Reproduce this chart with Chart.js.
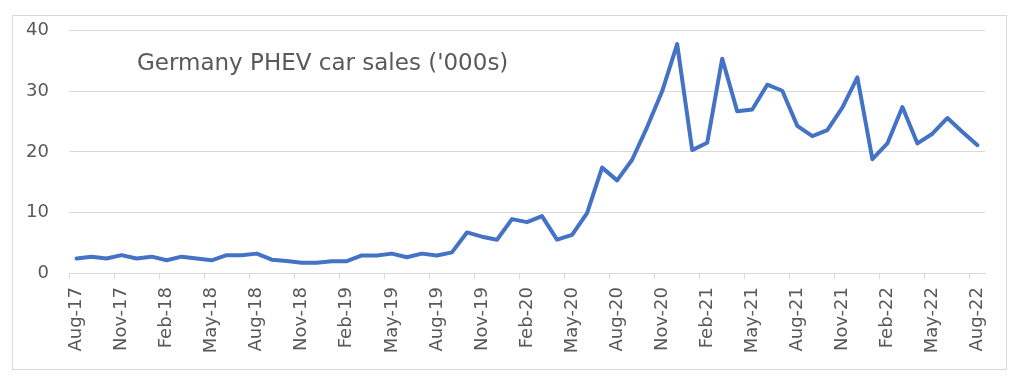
<!DOCTYPE html>
<html>
<head>
<meta charset="utf-8">
<script src="https://cdn.jsdelivr.net/npm/chart.js@4.4.1/dist/chart.umd.min.js"></script>
<style>
  html, body { margin: 0; padding: 0; background: #ffffff; }
  #wrap { position: relative; width: 1024px; height: 381px; }
  #frame { position: absolute; left: 12px; top: 15px; width: 995px; height: 355px; border: 1px solid #d9d9d9; box-sizing: border-box; }
  #c { position: absolute; left: 0; top: 0; }
</style>
</head>
<body>
<div id="wrap">
  <div id="frame"></div>
  <canvas id="c" width="1024" height="381"></canvas>
</div>
<script>
// ---- Data ----
const chartTitle = "Germany PHEV car sales ('000s)";
const months = [
  "Aug-17","Sep-17","Oct-17","Nov-17","Dec-17",
  "Jan-18","Feb-18","Mar-18","Apr-18","May-18","Jun-18","Jul-18","Aug-18","Sep-18","Oct-18","Nov-18","Dec-18",
  "Jan-19","Feb-19","Mar-19","Apr-19","May-19","Jun-19","Jul-19","Aug-19","Sep-19","Oct-19","Nov-19","Dec-19",
  "Jan-20","Feb-20","Mar-20","Apr-20","May-20","Jun-20","Jul-20","Aug-20","Sep-20","Oct-20","Nov-20","Dec-20",
  "Jan-21","Feb-21","Mar-21","Apr-21","May-21","Jun-21","Jul-21","Aug-21","Sep-21","Oct-21","Nov-21","Dec-21",
  "Jan-22","Feb-22","Mar-22","Apr-22","May-22","Jun-22","Jul-22","Aug-22"
];
const phevSales = [
  2.4, 2.7, 2.4, 2.95, 2.4,
  2.7, 2.1, 2.7, 2.4, 2.1, 2.95, 2.95, 3.2, 2.2, 2.0, 1.7, 1.7,
  1.95, 1.95, 2.9, 2.9, 3.2, 2.6, 3.2, 2.9, 3.4, 6.7, 6.0, 5.5,
  8.9, 8.4, 9.4, 5.5, 6.3, 9.9, 17.4, 15.3, 18.7, 24.1, 30.0, 37.8,
  20.3, 21.5, 35.4, 26.7, 27.0, 31.1, 30.1, 24.3, 22.6, 23.6, 27.3, 32.3,
  18.8, 21.4, 27.4, 21.4, 23.0, 25.6, 23.3, 21.1
];
const yTicks = [0, 10, 20, 30, 40];
const labelEvery = 3;

// ---- Chart ----
const FONT = "'DejaVu Sans', sans-serif";
const TXT = '#595959';
const GRID = '#d9d9d9';

const innerTitle = {
  id: 'innerTitle',
  afterDraw(chart) {
    const ctx = chart.ctx;
    ctx.save();
    ctx.font = "23px " + FONT;
    ctx.fillStyle = TXT;
    ctx.textAlign = 'left';
    ctx.textBaseline = 'alphabetic';
    ctx.fillText(chartTitle, 137, 70);
    ctx.restore();
  }
};

new Chart(document.getElementById('c'), {
  type: 'line',
  data: {
    labels: months,
    datasets: [{
      data: phevSales,
      borderColor: '#4472C4',
      borderWidth: 4,
      pointRadius: 0,
      tension: 0,
      fill: false,
      borderJoinStyle: 'round',
      borderCapStyle: 'round'
    }]
  },
  options: {
    responsive: false,
    animation: false,
    layout: { padding: { top: 29, right: 39, left: 0, bottom: 0 } },
    plugins: { legend: { display: false }, tooltip: { enabled: false } },
    scales: {
      x: {
        type: 'category',
        offset: true,
        afterFit(scale) { scale.height = 108; },
        border: { display: true, color: GRID, width: 1 },
        grid: {
          offset: true,
          drawOnChartArea: false,
          drawTicks: true,
          tickLength: 6,
          color: (ctx) => (ctx.index !== undefined && ctx.index % labelEvery === 0) ? GRID : 'rgba(0,0,0,0)'
        },
        ticks: {
          autoSkip: false,
          minRotation: 90,
          maxRotation: 90,
          padding: 8,
          color: TXT,
          font: { family: FONT, size: 18 },
          callback: (v, i) => (i % labelEvery === 0 ? months[i] : '')
        }
      },
      y: {
        min: yTicks[0],
        max: yTicks[yTicks.length - 1],
        afterFit(scale) { scale.width = 69; },
        afterBuildTicks(scale) { scale.ticks = yTicks.map(v => ({ value: v })); },
        border: { display: false },
        grid: { color: GRID, lineWidth: 1, drawTicks: false },
        ticks: {
          padding: 20,
          color: TXT,
          font: { family: FONT, size: 18 }
        }
      }
    }
  },
  plugins: [innerTitle]
});
</script>
</body>
</html>
